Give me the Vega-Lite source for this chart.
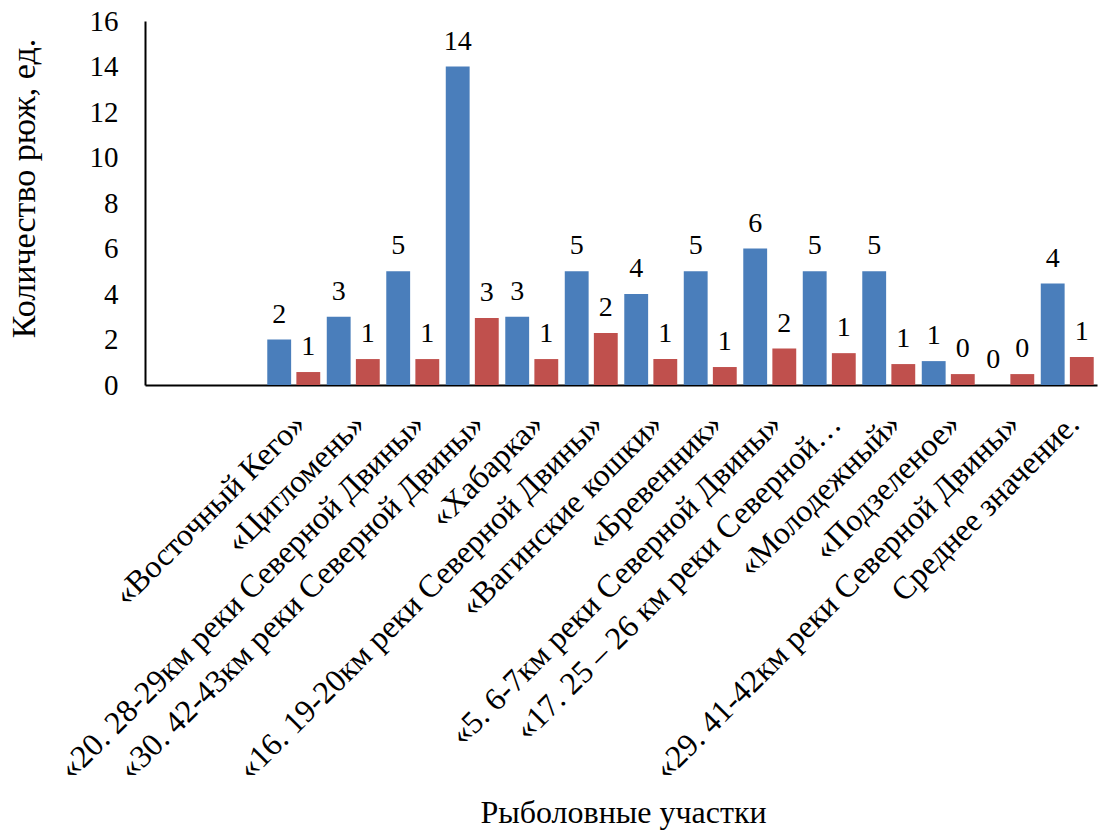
{
  "$schema": "https://vega.github.io/schema/vega-lite/v6.json",
  "width": 952,
  "height": 364,
  "autosize": "none",
  "padding": {"left": 145, "top": 21, "right": 4, "bottom": 447},
  "background": "white",
  "config": {
    "view": {"stroke": null},
    "font": "Liberation Serif",
    "axis": {"labelFont": "Liberation Serif", "titleFont": "Liberation Serif", "labelColor": "black", "titleColor": "black", "titleFontWeight": "normal"}
  },
  "data": {
    "values": [
      {"cat": "«Восточный Кего»", "series": "a", "value": 2},
      {"cat": "«Восточный Кего»", "series": "b", "value": 0.57},
      {"cat": "«Цигломень»", "series": "a", "value": 3},
      {"cat": "«Цигломень»", "series": "b", "value": 1.14},
      {"cat": "«20. 28-29км реки Северной Двины»", "series": "a", "value": 5},
      {"cat": "«20. 28-29км реки Северной Двины»", "series": "b", "value": 1.14},
      {"cat": "«30. 42-43км реки Северной Двины»", "series": "a", "value": 14},
      {"cat": "«30. 42-43км реки Северной Двины»", "series": "b", "value": 2.95},
      {"cat": "«Хабарка»", "series": "a", "value": 3},
      {"cat": "«Хабарка»", "series": "b", "value": 1.14},
      {"cat": "«16. 19-20км реки Северной Двины»", "series": "a", "value": 5},
      {"cat": "«16. 19-20км реки Северной Двины»", "series": "b", "value": 2.29},
      {"cat": "«Вагинские кошки»", "series": "a", "value": 4},
      {"cat": "«Вагинские кошки»", "series": "b", "value": 1.14},
      {"cat": "«Бревенник»", "series": "a", "value": 5},
      {"cat": "«Бревенник»", "series": "b", "value": 0.79},
      {"cat": "«5. 6-7км реки Северной Двины»", "series": "a", "value": 6},
      {"cat": "«5. 6-7км реки Северной Двины»", "series": "b", "value": 1.6},
      {"cat": "«17. 25 – 26 км реки Северной…", "series": "a", "value": 5},
      {"cat": "«17. 25 – 26 км реки Северной…", "series": "b", "value": 1.4},
      {"cat": "«Молодежный»", "series": "a", "value": 5},
      {"cat": "«Молодежный»", "series": "b", "value": 0.92},
      {"cat": "«Подзеленое»", "series": "a", "value": 1.05},
      {"cat": "«Подзеленое»", "series": "b", "value": 0.48},
      {"cat": "«29. 41-42км реки Северной Двины»", "series": "a", "value": 0},
      {"cat": "«29. 41-42км реки Северной Двины»", "series": "b", "value": 0.48},
      {"cat": "Среднее значение.", "series": "a", "value": 4.46},
      {"cat": "Среднее значение.", "series": "b", "value": 1.23}
    ]
  },
  "encoding": {
    "x": {
      "field": "cat",
      "type": "nominal",
      "sort": null,
      "scale": {
        "domain": [" ", "  ", "«Восточный Кего»", "«Цигломень»", "«20. 28-29км реки Северной Двины»", "«30. 42-43км реки Северной Двины»", "«Хабарка»", "«16. 19-20км реки Северной Двины»", "«Вагинские кошки»", "«Бревенник»", "«5. 6-7км реки Северной Двины»", "«17. 25 – 26 км реки Северной…", "«Молодежный»", "«Подзеленое»", "«29. 41-42км реки Северной Двины»", "Среднее значение."],
        "paddingInner": 0.11,
        "paddingOuter": 0.055
      },
      "axis": {
        "title": "Рыболовные участки",
        "titleFontSize": 32,
        "titleX": 478,
        "titleY": 427,
        "titleBaseline": "middle",
        "titleAlign": "center",
        "labelAngle": -45,
        "labelAlign": "right",
        "labelBaseline": "top",
        "labelFontSize": 32,
        "labelPadding": 23,
        "labelOffset": -4,
        "labelLimit": 0,
        "labelOverlap": false,
        "ticks": false,
        "domainColor": "black",
        "domainWidth": 2
      }
    },
    "xOffset": {"field": "series", "scale": {"domain": ["a", "b"], "paddingInner": 0.18}},
    "y": {
      "field": "value",
      "type": "quantitative",
      "scale": {"domain": [0, 16], "nice": false},
      "axis": {
        "title": "Количество рюж, ед.",
        "titleFontSize": 34,
        "titleX": -121,
        "titleY": 167,
        "titleAlign": "center",
        "titleBaseline": "middle",
        "values": [0, 2, 4, 6, 8, 10, 12, 14, 16],
        "labelFontSize": 29,
        "labelPadding": 27,
        "ticks": false,
        "grid": false,
        "domainColor": "black",
        "domainWidth": 2
      }
    }
  },
  "layer": [
    {
      "mark": {"type": "bar"},
      "encoding": {
        "color": {"field": "series", "type": "nominal", "scale": {"domain": ["a", "b"], "range": ["#4a7ebb", "#c0504d"]}, "legend": null}
      }
    },
    {
      "mark": {"type": "text", "baseline": "alphabetic", "dy": -17, "fontSize": 28, "font": "Liberation Serif", "color": "black"},
      "encoding": {
        "text": {"field": "value", "type": "quantitative", "format": ".0f"}
      }
    }
  ]
}
